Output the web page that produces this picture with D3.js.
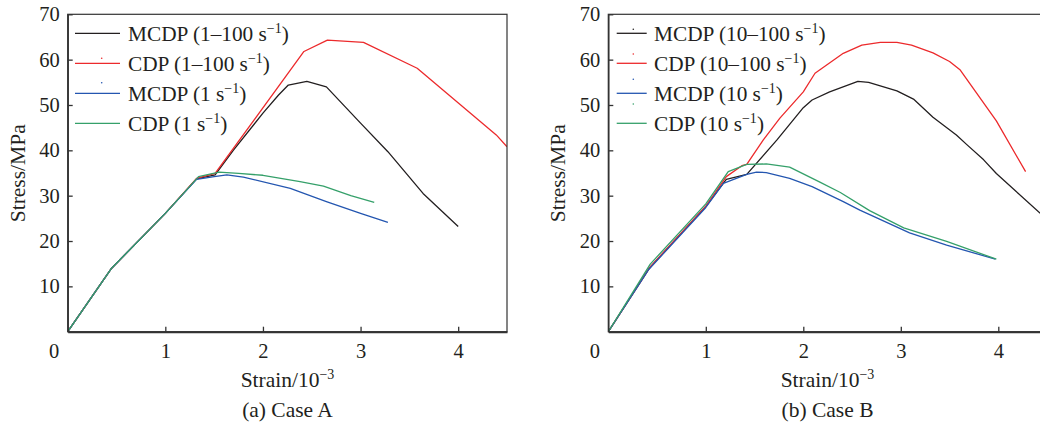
<!DOCTYPE html>
<html>
<head>
<meta charset="utf-8">
<script src="https://cdn.jsdelivr.net/npm/d3@7"></script>
<style>
  html, body { margin: 0; padding: 0; background: #fff; }
  svg { display: block; }
</style>
</head>
<body>
<svg id="chart" width="1040" height="423"></svg>
<script>
// Stress–strain curves, strain in 10^-3, stress in MPa.
// Case A
const caseA_mcdp_rate = [[0,0],[0.45,14.0],[1.0,26.1],[1.32,33.7],[1.51,34.6],[1.70,40.1],[2.0,48.2],[2.16,52.2],[2.26,54.4],[2.45,55.2],[2.65,54.0],[3.0,46.0],[3.28,39.7],[3.64,30.5],[4.0,23.2]];
const caseA_cdp_rate  = [[0,0],[0.45,14.0],[1.0,26.1],[1.32,33.8],[1.51,34.9],[2.42,61.8],[2.66,64.3],[3.03,63.8],[3.58,58.1],[4.39,43.4],[4.5,40.8]];
const caseA_mcdp_1    = [[0,0],[0.45,14.0],[1.0,26.1],[1.32,33.6],[1.5,34.2],[1.63,34.6],[1.8,34.1],[2.28,31.6],[2.65,28.7],[3.0,26.1],[3.28,24.1]];
const caseA_cdp_1     = [[0,0],[0.45,14.0],[1.0,26.1],[1.34,34.2],[1.55,35.2],[1.75,34.9],[2.0,34.5],[2.38,33.1],[2.62,32.1],[2.9,30.0],[3.14,28.5]];
// Case B
const caseB_mcdp_rate = [[0,0],[0.42,14.0],[1.0,27.6],[1.21,33.6],[1.42,34.7],[1.73,42.3],[2.0,49.4],[2.09,51.1],[2.27,52.9],[2.56,55.2],[2.67,55.0],[2.96,53.1],[3.13,51.3],[3.33,47.3],[3.57,43.4],[3.68,41.2],[3.85,37.9],[3.98,34.9],[4.43,26.1]];
const caseB_cdp_rate  = [[0,0],[0.43,14.3],[1.0,27.7],[1.21,34.2],[1.37,36.6],[1.42,36.9],[1.59,42.3],[1.76,47.1],[2.0,52.9],[2.12,57.0],[2.41,61.4],[2.60,63.2],[2.79,63.8],[2.96,63.8],[3.11,63.2],[3.33,61.5],[3.50,59.6],[3.61,57.7],[3.98,46.5],[4.28,35.3]];
const caseB_mcdp_10   = [[0,0],[0.41,13.6],[1.0,27.4],[1.18,32.7],[1.42,34.7],[1.52,35.2],[1.62,35.1],[1.86,33.8],[2.09,32.0],[2.41,28.7],[2.58,26.8],[3.09,21.8],[3.47,19.1],[3.97,16.0]];
const caseB_cdp_10    = [[0,0],[0.43,14.9],[1.0,28.2],[1.23,35.3],[1.42,36.9],[1.62,37.0],[1.86,36.3],[2.17,33.0],[2.38,30.7],[2.68,26.7],[3.03,22.9],[3.47,19.9],[3.98,16.0]];

// Axis ticks and domains
const xTicks = [1, 2, 3, 4];
const yTicks = [10, 20, 30, 40, 50, 60, 70];
const xDomain = [0, 4.5];
const yDomain = [0, 70];

// Legend entries: [text, superscript, closing]
const legendA = [["MCDP (1–100 s", "−1", ")"], ["CDP (1–100 s", "−1", ")"], ["MCDP (1 s", "−1", ")"], ["CDP (1 s", "−1", ")"]];
const legendB = [["MCDP (10–100 s", "−1", ")"], ["CDP (10–100 s", "−1", ")"], ["MCDP (10 s", "−1", ")"], ["CDP (10 s", "−1", ")"]];
const panelCaptions = ["(a) Case A", "(b) Case B"];

const colors = ["#231f20", "#ec2a2c", "#2456b0", "#35a06a"];
const FONT = "'Liberation Serif'";
const INK = "#231f20";

const svg = d3.select("#chart");

const panels = [
  { left: 67.7, right: 507, series: [caseA_mcdp_rate, caseA_cdp_rate, caseA_mcdp_1, caseA_cdp_1], legend: legendA, caption: panelCaptions[0],
    legendX: 75, legendLen: 45, textX: 128, dots: [null, [101.7, 58.3], [101.7, 82.7], null] },
  { left: 608.3, right: 608.3 + 4.5 * 97.5, series: [caseB_mcdp_rate, caseB_cdp_rate, caseB_mcdp_10, caseB_cdp_10], legend: legendB, caption: panelCaptions[1],
    legendX: 616.7, legendLen: 30, textX: 654, dots: [[633.3, 29.3], [633.3, 54], [633.3, 79.3], [633.3, 104]] }
];

const plotTop = 14.3, plotBottom = 331.7;

function label(sel, size) {
  return sel.style("font-family", FONT)
    .attr("font-size", size).style("font-size", size + "px").style("fill", INK);
}

panels.forEach((p, i) => {
  const x = d3.scaleLinear().domain(xDomain).range([p.left, p.right]);
  const y = d3.scaleLinear().domain(yDomain).range([plotBottom, plotTop]);
  const g = svg.append("g").style("font-family", FONT);

  const clipId = "clip" + i;
  svg.append("clipPath").attr("id", clipId)
    .append("rect").attr("x", p.left).attr("y", plotTop - 2).attr("width", p.right - p.left).attr("height", plotBottom - plotTop + 2);

  // curves
  const line = d3.line().x(d => x(d[0])).y(d => y(d[1]));
  g.append("g").attr("clip-path", `url(#${clipId})`)
    .selectAll("path").data(p.series).join("path")
    .attr("d", line)
    .attr("fill", "none")
    .attr("stroke", (d, k) => colors[k])
    .attr("stroke-width", 1.3)
    .attr("stroke-linejoin", "round");

  // frame
  g.append("rect")
    .attr("x", p.left).attr("y", plotTop)
    .attr("width", p.right - p.left).attr("height", plotBottom - plotTop)
    .attr("fill", "none").attr("stroke", "#333").attr("stroke-width", 1.2);

  // bottom axis with inward ticks
  const xAxis = d3.axisBottom(x).tickValues(xTicks).tickFormat(d3.format("d"))
    .tickSizeInner(-5).tickSizeOuter(0).tickPadding(12);
  const gx = g.append("g").attr("transform", `translate(0,${plotBottom})`).call(xAxis);
  gx.attr("font-family", null).attr("font-size", null);
  gx.select(".domain").attr("stroke", "#333").attr("stroke-width", 2);
  gx.selectAll(".tick line").attr("stroke", "#333").attr("stroke-width", 1.3);
  label(gx.selectAll(".tick text"), 20.5);

  // left axis with inward ticks
  const yAxis = d3.axisLeft(y).tickValues(yTicks).tickFormat(d3.format("d"))
    .tickSizeInner(-5).tickSizeOuter(0).tickPadding(8);
  const gy = g.append("g").attr("transform", `translate(${p.left},0)`).call(yAxis);
  gy.attr("font-family", null).attr("font-size", null);
  gy.select(".domain").attr("stroke", "#333").attr("stroke-width", 1.5);
  gy.selectAll(".tick line").attr("stroke", "#333").attr("stroke-width", 1.3);
  label(gy.selectAll(".tick text"), 20.5);

  // shared origin label
  label(g.append("text").attr("x", p.left - 13.5).attr("y", 358).attr("text-anchor", "middle"), 20.5).text("0");

  // axis titles
  const cx = i === 0 ? 287.5 : 827.5;
  const xt = label(g.append("text").attr("x", cx).attr("y", 386.5).attr("text-anchor", "middle"), 21.5);
  xt.append("tspan").text("Strain/10");
  xt.append("tspan").attr("dy", -8).style("font-size", "14px").text("−3");

  const yx = i === 0 ? 24.5 : 565;
  label(g.append("text").attr("transform", `translate(${yx},173.3) rotate(-90)`).attr("text-anchor", "middle"), 21.5).text("Stress/MPa");

  label(g.append("text").attr("x", cx).attr("y", 416.5).attr("text-anchor", "middle"), 21.5).text(p.caption);

  // legend
  const rowY = [33.3, 63.3, 93.3, 123.3];
  p.legend.forEach((entry, k) => {
    g.append("line")
      .attr("x1", p.legendX).attr("x2", p.legendX + p.legendLen)
      .attr("y1", rowY[k]).attr("y2", rowY[k])
      .attr("stroke", colors[k]).attr("stroke-width", 1.3);
    if (p.dots[k]) {
      g.append("circle").attr("cx", p.dots[k][0]).attr("cy", p.dots[k][1]).attr("r", 0.8).attr("fill", colors[k]);
    }
    const t = label(g.append("text").attr("x", p.textX).attr("y", rowY[k] + 7.5), 21.3);
    t.append("tspan").text(entry[0]);
    t.append("tspan").attr("dy", -8).style("font-size", "14px").text(entry[1]);
    t.append("tspan").attr("dy", 8).text(entry[2]);
  });
});
</script>
</body>
</html>
